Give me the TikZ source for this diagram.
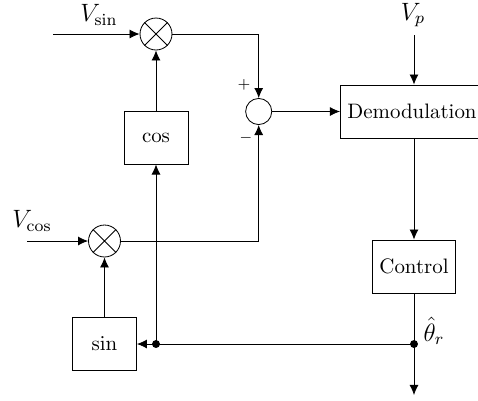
\documentclass[tikz,border=0pt]{standalone}
\usetikzlibrary{arrows.meta}
\begin{document}
\begin{tikzpicture}[x=0.4785pt,y=-0.4785pt,
  line width=0.4pt,
  tip/.style={-{Latex[length=4.8pt,width=4.3pt]}},
  blk/.style={draw,rectangle,minimum width=30.6pt,minimum height=25.4pt,inner sep=3.33pt,font=\normalsize},
  mult/.style={draw,circle,minimum size=15.3pt,inner sep=0pt},
  summ/.style={draw,circle,minimum size=12.5pt,inner sep=0pt},
  jdot/.style={circle,fill,minimum size=3.8pt,inner sep=0pt},
  lab/.style={inner sep=0pt,font=\large}]
\useasboundingbox (0,0) rectangle (478,400);
% nodes
\node[mult] (m1) at (156,34) {};
\node[mult] (m2) at (104.5,241) {};
\node[summ] (sum) at (258.7,111.5) {};
\node[blk] (cos) at (156,137.5) {$\cos$};
\node[blk] (sin) at (104.5,344) {$\sin$};
\node[blk,anchor=west] (demod) at (340,111.5) {Demodulation};
\node[blk] (control) at (414,266.5) {Control};
\node[jdot] (j1) at (156,344) {};
\node[jdot] (j2) at (414,344) {};
\coordinate (vsinin) at (53,34);
\coordinate (vcosin) at (27,241);
\coordinate (vpin) at (414,35);
\coordinate (out) at (414,395);
% labels
\node[lab] (lvsin) at (99,15) {$V_{\sin}$};
\node[lab] (lvcos) at (32,221) {$V_{\cos}$};
\node[lab] (lvp) at (413,15) {$V_p$};
\node[lab] (lth) at (434,331) {$\hat{\theta}_r$};
\node[inner sep=0pt,font=\scriptsize] (lplus) at (244,85) {$+$};
\node[inner sep=0pt,font=\scriptsize] (lminus) at (246,138) {$-$};
% crosses
\draw (m1.north west) -- (m1.south east) (m1.north east) -- (m1.south west);
\draw (m2.north west) -- (m2.south east) (m2.north east) -- (m2.south west);
% connectors
\draw[tip] (vsinin) -- (m1.west);
\draw[tip] (vcosin) -- (m2.west);
\draw[tip] (cos.north) -- (m1.south);
\draw[tip] (sin.north) -- (m2.south);
\draw[tip] (m1.east) -| (sum.north);
\draw[tip] (m2.east) -| (sum.south);
\draw[tip] (sum.east) -- (demod.west);
\draw[tip] (vpin) -- (vpin |- demod.north);
\draw[tip] (vpin |- demod.south) -- (control.north);
\draw (control.south) -- (j2.center);
\draw[tip] (j2.center) -- (out);
\draw[tip] (j2.center) -- (sin.east);
\draw[tip] (j1.center) -- (cos.south);
\end{tikzpicture}
\end{document}
